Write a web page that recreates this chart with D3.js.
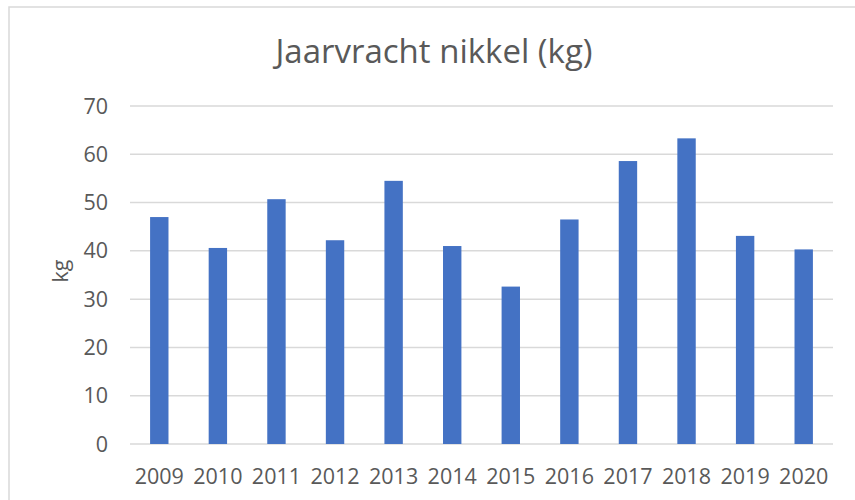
<!DOCTYPE html>
<html><head><meta charset="utf-8">
<script src="https://cdn.jsdelivr.net/npm/d3@7"></script>
<style>body{margin:0;background:#fff;}svg{display:block;}</style>
</head><body>
<svg id="c" width="855" height="500"></svg>
<script>
const years = ["2009","2010","2011","2012","2013","2014","2015","2016","2017","2018","2019","2020"];
const values = [47.0, 40.6, 50.7, 42.2, 54.5, 41.0, 32.6, 46.5, 58.6, 63.3, 43.1, 40.3];
const yTicks = [0,10,20,30,40,50,60,70];
const title = "Jaarvracht nikkel (kg)";
const yLabel = "kg";

const svg = d3.select("#c");
const font = "'Open Sans', sans-serif";
const textColor = "#595959";

// chart border
svg.append("rect").attr("x",9).attr("y",7).attr("width",900).attr("height",600)
  .attr("fill","none").attr("stroke","#d9d9d9").attr("stroke-width",1.5);

const x = d3.scaleBand().domain(years).range([130,833]).paddingInner(0.686).paddingOuter(0.343);
const y = d3.scaleLinear().domain([0,70]).range([444,106]);

// gridlines
svg.append("g").selectAll("line").data(yTicks).join("line")
  .attr("x1",130).attr("x2",833)
  .attr("y1",d=>y(d)).attr("y2",d=>y(d))
  .attr("stroke","#d9d9d9").attr("stroke-width",1.5);

// y axis labels
const yAxis = d3.axisLeft(y).tickValues(yTicks).tickSize(0).tickPadding(0);
const ya = svg.append("g").attr("transform","translate(108,0)").call(yAxis);
ya.select(".domain").remove();
ya.selectAll("text").attr("font-family",font).attr("font-size",21.5).attr("fill",textColor).attr("dy","0.33em");

// bars
svg.append("g").selectAll("rect").data(values).join("rect")
  .attr("x",(d,i)=>x(years[i])).attr("width",x.bandwidth())
  .attr("y",d=>y(d)).attr("height",d=>y(0)-y(d))
  .attr("fill","#4472c4");

// x axis labels
const xAxis = d3.axisBottom(x).tickSize(0).tickPadding(0);
const xa = svg.append("g").attr("transform","translate(0,484)").call(xAxis);
xa.select(".domain").remove();
xa.selectAll("text").attr("font-family",font).attr("font-size",21.5).attr("fill",textColor).attr("dy",0);

// title
svg.append("text").attr("x",434).attr("y",63).attr("text-anchor","middle")
  .attr("font-family",font).attr("font-size",33).attr("fill",textColor).text(title);

// y label
svg.append("text").attr("transform","translate(68,271) rotate(-90)").attr("text-anchor","middle")
  .attr("font-family",font).attr("font-size",21.5).attr("fill",textColor).text(yLabel);
</script>
</body></html>
